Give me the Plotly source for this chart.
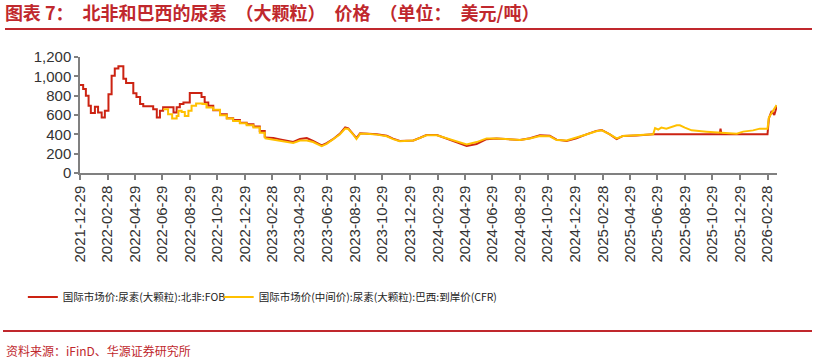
import plotly.graph_objects as go

# ---------------- data ----------------
red_dates = [
    "2021-12-29", "2022-01-05", "2022-01-11", "2022-01-17", "2022-01-22", "2022-01-31",
    "2022-02-07", "2022-02-15", "2022-02-22", "2022-03-02", "2022-03-09", "2022-03-16",
    "2022-03-24", "2022-04-04", "2022-04-10", "2022-04-26", "2022-05-03", "2022-05-11",
    "2022-05-18", "2022-06-09", "2022-06-17", "2022-06-24", "2022-07-01", "2022-07-24",
    "2022-07-31", "2022-08-07", "2022-08-15", "2022-08-29", "2022-09-24", "2022-10-01",
    "2022-10-09", "2022-10-20", "2022-11-04", "2022-11-19", "2022-12-03", "2022-12-18",
    "2023-01-02", "2023-01-17", "2023-01-31", "2023-02-11",
    "2023-03-02", "2023-03-17", "2023-03-31", "2023-04-15", "2023-04-30", "2023-05-15",
    "2023-05-29", "2023-06-17", "2023-06-28", "2023-07-12", "2023-07-27", "2023-08-08",
    "2023-08-15", "2023-08-26", "2023-09-02", "2023-09-10", "2023-09-25", "2023-10-17",
    "2023-11-08", "2023-11-22", "2023-12-07", "2024-01-06", "2024-01-21", "2024-02-04",
    "2024-02-27", "2024-03-20", "2024-04-11", "2024-05-03", "2024-05-25", "2024-06-16",
    "2024-07-08", "2024-07-30", "2024-08-29", "2024-09-20", "2024-10-12", "2024-11-03",
    "2024-11-18", "2024-12-10", "2025-01-01", "2025-01-23", "2025-02-14", "2025-02-26",
    "2025-03-16", "2025-03-31", "2025-04-14", "2025-05-14", "2025-06-20", "2025-11-14",
    "2025-11-16", "2025-11-18", "2026-02-28", "2026-03-03", "2026-03-09", "2026-03-15",
    "2026-03-21",
]
red_values = [
    910, 870, 800, 695, 620, 685,
    625, 575, 645, 815, 1005, 1080,
    1105, 975, 930, 825, 785, 715,
    690, 660, 575, 645, 680, 625,
    680, 715, 730, 828, 785, 730,
    695, 650, 608, 567, 547, 521,
    504, 480, 434, 368,
    362, 348, 333, 322, 352, 362,
    333, 285, 310, 350, 405, 472,
    462, 405, 360, 410, 408, 400,
    385, 355, 332, 337, 365, 393,
    392, 355, 318, 280, 300, 350,
    357, 350, 342, 360, 390, 385,
    345, 330, 360, 400, 436, 445,
    400, 350, 383, 389, 400, 400,
    459, 400, 400, 565, 640, 600,
    695,
]

yellow_dates = [
    "2022-07-01", "2022-07-12", "2022-07-21", "2022-07-31", "2022-08-04", "2022-08-11",
    "2022-08-18", "2022-08-26", "2022-09-02", "2022-09-12", "2022-09-26", "2022-10-05",
    "2022-10-20", "2022-11-04", "2022-11-19", "2022-12-03", "2022-12-18", "2023-01-02",
    "2023-01-17", "2023-01-31", "2023-02-11",
    "2023-03-02", "2023-03-17", "2023-03-31", "2023-04-15", "2023-04-30", "2023-05-15",
    "2023-05-29", "2023-06-17", "2023-06-28", "2023-07-12", "2023-07-27", "2023-08-08",
    "2023-08-15", "2023-08-26", "2023-09-02", "2023-09-10", "2023-09-25", "2023-10-17",
    "2023-11-08", "2023-11-22", "2023-12-07", "2024-01-06", "2024-01-21", "2024-02-04",
    "2024-02-27", "2024-03-20", "2024-04-11", "2024-05-03", "2024-05-25", "2024-06-16",
    "2024-07-08", "2024-07-30", "2024-08-29", "2024-09-20", "2024-10-12", "2024-11-03",
    "2024-11-18", "2024-12-10", "2025-01-01", "2025-01-23", "2025-02-14", "2025-02-26",
    "2025-03-16", "2025-03-31", "2025-04-14", "2025-05-14", "2025-06-20", "2025-06-24",
    "2025-07-01", "2025-07-08", "2025-07-19", "2025-08-11", "2025-08-18", "2025-08-29",
    "2025-09-13", "2025-10-16", "2025-11-15", "2025-12-07", "2025-12-22", "2026-01-05",
    "2026-01-27", "2026-02-11", "2026-02-28", "2026-03-03", "2026-03-12", "2026-03-20",
]
yellow_values = [
    660, 608, 563, 590, 643, 632,
    590, 643, 695, 720, 713, 678,
    654, 598, 563, 539, 515, 494,
    470, 417, 360,
    345, 335, 325, 310, 335, 335,
    320, 278, 302, 345, 398, 460,
    455, 398, 352, 405, 405, 397,
    380, 350, 328, 335, 363, 390,
    390, 358, 330, 295, 320, 358,
    358, 348, 341, 356, 383, 380,
    341, 337, 365, 398, 432, 442,
    400, 358, 383, 390, 400, 465,
    450, 470, 459, 493, 493, 470,
    441, 428, 417, 407, 407, 428,
    441, 459, 459, 574, 643, 702,
]

# weekly-step period (drawn as steps) ends here; later data drawn as a line
step_until = "2023-02-11"

tick_dates = [
    "2021-12-29", "2022-02-28", "2022-04-29", "2022-06-29", "2022-08-29", "2022-10-29",
    "2022-12-29", "2023-02-28", "2023-04-29", "2023-06-29", "2023-08-29", "2023-10-29",
    "2023-12-29", "2024-02-29", "2024-04-29", "2024-06-29", "2024-08-29", "2024-10-29",
    "2024-12-29", "2025-02-28", "2025-04-29", "2025-06-29", "2025-08-29", "2025-10-29",
    "2025-12-29", "2026-02-28",
]
tick_labels = list(tick_dates)

red_name = "国际市场价:尿素(大颗粒):北非:FOB"
yellow_name = "国际市场价(中间价):尿素(大颗粒):巴西:到岸价(CFR)"
title_text = "图表 7：北非和巴西的尿素（大颗粒）价格（单位：美元/吨）"
source_text = "资料来源：iFinD、华源证券研究所"

RED = "#CC2312"
YELLOW = "#FFC000"
TITLE_RED = "#C0282D"

# full-width punctuation rendered with full-width spacing
EN = "\u2002"
title_display = (title_text.replace("（", EN + "（")
                 .replace("）", "）" + EN)
                 .replace("：", "：" + EN))


def split(dates, values, cut):
    i = dates.index(cut)
    return (dates[:i + 1], values[:i + 1]), (dates[i:], values[i:])


fig = go.Figure()
for name, dates, vals, color, leg in [
    (red_name, red_dates, red_values, RED, "legend"),
    (yellow_name, yellow_dates, yellow_values, YELLOW, "legend2"),
]:
    (d1, v1), (d2, v2) = split(dates, vals, step_until)
    fig.add_trace(go.Scatter(x=d1, y=v1, mode="lines", name=name, legendgroup=name,
                             legend=leg,
                             line=dict(color=color, width=2, shape="hv"), showlegend=True))
    fig.add_trace(go.Scatter(x=d2, y=v2, mode="lines", name=name, legendgroup=name,
                             legend=leg,
                             line=dict(color=color, width=2), showlegend=False))

axis_font = dict(family="Liberation Sans, Arial, sans-serif", size=15, color="#333333")
legend_font = dict(family="Noto Sans CJK SC, sans-serif", size=10.5, color="#222222")

fig.update_layout(
    width=815, height=364,
    margin=dict(l=80, r=38, t=57, b=191),
    paper_bgcolor="white", plot_bgcolor="white",
    showlegend=True,
    legend=dict(orientation="h", x=-0.082, xanchor="left", y=-1.07, yanchor="middle",
                font=legend_font, bgcolor="rgba(0,0,0,0)", itemwidth=30),
    legend2=dict(orientation="h", x=0.199, xanchor="left", y=-1.07, yanchor="middle",
                 font=legend_font, bgcolor="rgba(0,0,0,0)", itemwidth=30),
    title=dict(text="<b>" + title_display + "</b>",
               x=0.006, xanchor="left", xref="container",
               y=0.962, yanchor="middle", yref="container",
               font=dict(family="Noto Sans CJK SC, sans-serif", size=18, color=TITLE_RED)),
    xaxis=dict(type="date", range=["2021-12-29", "2026-03-21"],
               tickmode="array", tickvals=tick_dates, ticktext=tick_labels,
               tickangle=-90, tickfont=axis_font,
               showline=True, linecolor="#808080", linewidth=1.5,
               ticks="outside", ticklen=5, tickcolor="#808080", tickwidth=1.5,
               showgrid=False, zeroline=False),
    yaxis=dict(range=[0, 1200], dtick=200, tickformat=",", tickfont=axis_font,
               showline=True, linecolor="#808080", linewidth=1.5,
               ticks="outside", ticklen=4, tickcolor="#808080", tickwidth=1.5,
               showgrid=False, zeroline=False),
    shapes=[
        dict(type="line", xref="paper", yref="paper",
             x0=(5 - 80) / 697, x1=(812 - 80) / 697,
             y0=(173 - 29) / 116, y1=(173 - 29) / 116,
             line=dict(color=TITLE_RED, width=2)),
        dict(type="line", xref="paper", yref="paper",
             x0=(3 - 80) / 697, x1=(812 - 80) / 697,
             y0=(173 - 331) / 116, y1=(173 - 331) / 116,
             line=dict(color=TITLE_RED, width=2)),
    ],
    annotations=[
        dict(text=source_text, xref="paper", yref="paper",
             x=(4 - 80) / 697, xanchor="left", y=(173 - 350) / 116, yanchor="middle",
             showarrow=False,
             font=dict(family="Noto Sans CJK SC, sans-serif", size=12, color=TITLE_RED)),
    ],
)

fig.write_html("out.html")
